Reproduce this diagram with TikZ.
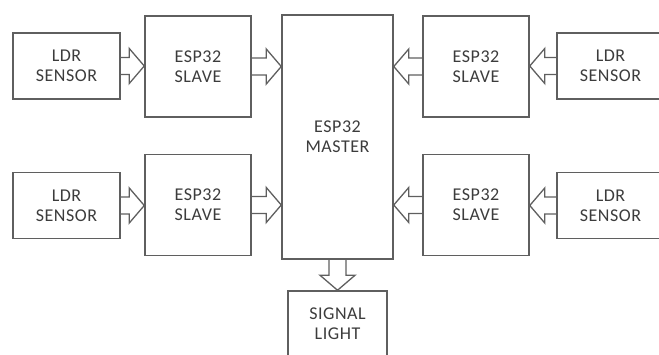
\documentclass[tikz,border=0pt]{standalone}
\usepackage{fontspec}
\setmainfont[LetterSpace=3]{Carlito}
\usetikzlibrary{calc}
\definecolor{boxline}{RGB}{95,95,95}
\definecolor{boxtext}{RGB}{60,60,60}

\begin{document}
\begin{tikzpicture}[x=1pt,y=1pt,
  box/.style={draw=boxline,line width=1.5pt,minimum width=106pt,minimum height=101pt,
              align=center,font=\fontsize{18}{20}\selectfont,text=boxtext,inner sep=0pt},
  ldr/.style={box,minimum width=107pt,minimum height=66pt},
  blk/.style={draw=boxline,line width=1.3pt,line join=miter,
    to path={let \p1=($(\tikztotarget)!15pt!(\tikztostart)$) in
      ($(\tikztostart)!8.5pt!90:(\tikztotarget)$)
      -- ($(\p1)!8.5pt!90:(\tikztotarget)$)
      -- ($(\p1)!17.5pt!90:(\tikztotarget)$)
      -- (\tikztotarget)
      -- ($(\p1)!17.5pt!-90:(\tikztotarget)$)
      -- ($(\p1)!8.5pt!-90:(\tikztotarget)$)
      -- ($(\tikztostart)!8.5pt!-90:(\tikztotarget)$)}}]
  \useasboundingbox (0,0) rectangle (659,354);
  \node[box,minimum width=111pt,minimum height=244pt] (mst) at (337.5,217) {ESP32\\MASTER};
  \node[box] (slvA) at (198,287.5) {ESP32\\SLAVE};
  \node[box] (slvB) at (476,287.5) {ESP32\\SLAVE};
  \node[box] (slvC) at (198,149) {ESP32\\SLAVE};
  \node[box] (slvD) at (476,149) {ESP32\\SLAVE};
  \node[ldr] (ldrA) at (66.5,288) {LDR\\SENSOR};
  \node[ldr] (ldrB) at (610.5,288) {LDR\\SENSOR};
  \node[ldr] (ldrC) at (66.5,148.5) {LDR\\SENSOR};
  \node[ldr] (ldrD) at (610.5,148.5) {LDR\\SENSOR};
  \node[ldr,minimum width=99pt] (sig) at (337.5,30) {SIGNAL\\LIGHT};
  % sensors feed slaves, slaves feed master
  \foreach \a/\b in {ldrA/slvA,ldrC/slvC,slvA/mst,slvC/mst}
    \draw[blk] (\a.east) to (\a.east -| \b.west);
  \foreach \a/\b in {ldrB/slvB,ldrD/slvD,slvB/mst,slvD/mst}
    \draw[blk] (\a.west) to (\a.west -| \b.east);
  \draw[blk] (mst.south) to (sig.north);
\end{tikzpicture}
\end{document}
